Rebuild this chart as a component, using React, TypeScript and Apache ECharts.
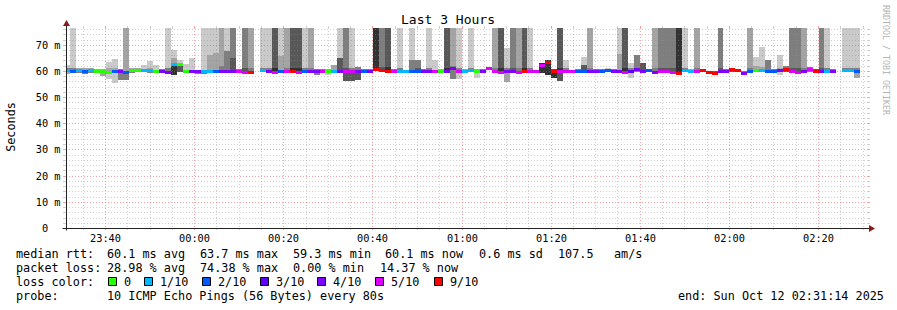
import { useEffect, useRef } from 'react';
import * as echarts from 'echarts';

// ---------- data ----------
const TITLE = 'Last 3 Hours';
const WINDOW_START = '23:31:14';
const SPAN_S = 10800;
const STEP_S = 80;
const FIRST_EDGE_OFFSET_S = 54;
const Y_MAX = 76.4;
const T = 100; // ping beyond the top of the graph

const X_LABELS = ['23:40', '00:00', '00:20', '00:40', '01:00', '01:20', '01:40', '02:00', '02:20'];
const Y_LABELS = [0, 10, 20, 30, 40, 50, 60, 70];

const medianMs = [
  60.2, 60.1, 60.2, 59.8, 60.3, 60.1, 59.8, 59.7, 60.0, 59.9,
  59.6, 60.2, 60.5, 60.2, 60.2, 60.1, 60.0, 59.6, 62.5, 62.5,
  60.1, 60.0, 59.8, 60.1, 60.1, 60.0, 60.0, 60.0, 60.0, 59.8,
  59.7, 59.6, null, 60.2, 60.0, 59.6, 60.1, 60.0, 60.1, 59.6,
  60.1, 60.0, 60.0, 60.0, 60.1, 60.1, 60.0, 59.8, 59.8, 60.0,
  60.1, 60.0, 60.8, 60.2, 60.0, 60.1, 59.8, 59.8, 60.0, 60.0,
  59.9, 59.9, 59.8, 60.1, 60.0, 61.0, 60.0, 60.1, 60.2, 60.0,
  60.0, 61.1, 60.0, 59.7, 59.8, 59.9, 59.7, 59.9, 59.9, 59.9,
  62.4, 63.5, 60.0, 59.8, 60.0, 59.9, 60.1, 60.1, 60.0, 60.0,
  60.0, 60.2, 60.0, 60.0, 59.7, 60.0, 60.8, 60.0, 60.2, 59.7,
  59.8, 59.8, 59.7, 59.4, 60.2, 60.1, 59.8, 60.3, 59.5, 59.4,
  59.9, 60.0, 60.7, 60.2, 59.4, 60.0, 60.2, 60.2, 60.0, 60.0,
  60.3, 60.9, 60.0, 59.7, 60.1, 60.8, 60.0, 60.0, 60.1, 60.0,
  null, 60.2, 60.2, 60.0, null, null,
];

const lostPings = [
  1, 2, 1, 2, 1, 0, 0, 0, 2, 4,
  2, 0, 0, 1, 1, 0, 4, 4, 1, 0,
  0, 4, 4, 1, 1, 2, 4, 4, 4, 5,
  5, 9, 0, 1, 4, 5, 2, 5, 9, 5,
  2, 4, 4, 5, 0, 1, 4, 5, 5, 4,
  2, 4, 9, 9, 9, 5, 1, 1, 2, 2,
  4, 4, 5, 0, 4, 4, 5, 1, 1, 0,
  4, 5, 5, 5, 4, 4, 5, 9, 5, 5,
  5, 9, 9, 5, 5, 5, 2, 2, 4, 4,
  2, 2, 4, 4, 5, 3, 4, 4, 2, 4,
  5, 5, 5, 9, 1, 1, 5, 9, 9, 9,
  4, 4, 9, 9, 4, 2, 0, 1, 2, 2,
  4, 9, 5, 5, 4, 5, 9, 4, 1, 4,
  0, 1, 1, 2, 0, 0,
];

const smokeTop = [
  62.4, T, 61, 61.2, 61.3, 60.8, 60.6, 63.4, 64.7, 60.8,
  T, 61, 61.2, 62.4, 63.9, 62.4, 60.8, T, 68.1, 64,
  62.7, 64.9, 60.5, T, T, T, T, T, T, 60.6,
  T, T, 0, T, T, T, T, T, T, T,
  T, T, 60.7, 60.6, 60.8, 62.3, T, T, T, 61.5,
  60.7, 60.6, T, T, T, 60.7, T, 60.5, T, 64.3,
  60.6, T, 64.3, 60.7, T, T, T, 60.8, T, 60.7,
  60.6, 61.6, T, T, 68.7, T, T, T, T, 60.5,
  63, 64, 60.6, T, 64.3, 60.5, 60.8, 65.5, T, 60.6,
  60.6, 61.3, 60.6, T, T, 63, 66.2, 63, 60.7, T,
  T, T, T, T, T, 60.7, T, 60.9, 60.1, 60.0,
  T, 60.6, 61.3, 60.8, 60.0, T, 65.2, 69, 64.3, 60.6,
  66.2, 61.8, T, T, T, 61.4, 60.6, T, T, 60.8,
  0, T, T, T, 0, 0,
];
const smokeTopShade = [
  1, 1, 2, 2, 2, 2, 2, 1, 1, 3,
  2, 2, 2, 1, 1, 1, 3, 1, 1, 1,
  1, 1, 3, 1, 1, 1, 2, 1, 3, 3,
  3, 2, 0, 1, 1, 4, 1, 2, 4, 4,
  1, 2, 3, 3, 2, 2, 1, 3, 1, 3,
  3, 3, 5, 3, 4, 3, 1, 2, 1, 3,
  3, 1, 1, 2, 4, 2, 1, 2, 1, 2,
  3, 3, 2, 4, 1, 3, 2, 4, 1, 3,
  5, 5, 4, 4, 1, 3, 3, 1, 2, 3,
  3, 1, 3, 1, 4, 1, 3, 4, 3, 2,
  3, 3, 3, 5, 1, 2, 2, 4, 4, 4,
  3, 3, 4, 4, 3, 2, 1, 1, 3, 3,
  1, 3, 3, 3, 2, 3, 4, 3, 1, 3,
  0, 1, 1, 1, 0, 0,
];

const smokeInner = [
  61, 61, 0, 0, 0, 0, 0, 61, 61, 0,
  0, 0, 0, 0, 61, 0, 0, 61, 65, 0,
  0, 0, 0, 0, 66, 66.8, 62, 67.7, 65, 0,
  61, 61, 0, 61, 61, 61, 65.6, 61, 61, 61,
  61, 61, 0, 0, 0, 0, 65, 61, 61, 0,
  0, 0, 0, 61.5, 61.5, 0, 61, 0, 64, 61,
  0, 61, 0, 0, 61, 62, 61, 0, 61, 0,
  0, 0, 61, 61, 61, 61, 61, 61, 61, 0,
  0, 0, 0, 61, 61, 0, 0, 62.2, 61, 0,
  0, 0, 0, 66.5, 61, 61, 0, 0, 0, 61,
  61, 61, 61, 0, 61, 0, 61, 0, 0, 0,
  61, 0, 0, 0, 0, 61, 62, 61.5, 0, 0,
  61, 0, 61, 61, 61, 0, 0, 61, 61, 0,
  0, 61, 61, 61, 0, 0,
];
const smokeInnerShade = [
  3, 3, 0, 0, 0, 0, 0, 2, 2, 0,
  0, 0, 0, 0, 2, 0, 0, 3, 2, 0,
  0, 0, 0, 0, 2, 2, 3, 3, 4, 0,
  4, 3, 0, 3, 3, 5, 2, 3, 5, 5,
  3, 3, 0, 0, 0, 0, 4, 4, 3, 0,
  0, 0, 0, 4, 5, 0, 3, 0, 3, 4,
  0, 3, 0, 0, 5, 3, 3, 0, 3, 0,
  0, 0, 3, 5, 3, 4, 3, 5, 3, 0,
  0, 0, 0, 5, 3, 0, 0, 4, 3, 0,
  0, 0, 0, 2, 5, 3, 0, 0, 0, 3,
  4, 4, 4, 0, 3, 0, 3, 0, 0, 0,
  4, 0, 0, 0, 0, 3, 2, 2, 0, 0,
  2, 0, 4, 4, 3, 0, 0, 4, 3, 0,
  0, 3, 3, 3, 0, 0,
];

const smokeBottom = [
  59, 59.3, 59.4, 59, 59.4, 59.3, 58, 57, 55.4, 56.6,
  56.6, 59.4, 59.6, 59.5, 59.4, 59.5, 59.3, 59, 58.5, 59.5,
  59.5, 59.5, 59, 58.9, 59.3, 59.4, 59.4, 59.4, 59.4, 59.3,
  59.2, 59.2, 0, 59.5, 59.5, 59.3, 59.5, 59.5, 59.5, 59.2,
  59.4, 59.4, 58.5, 59.5, 58.6, 59.4, 59.3, 56, 56, 56.5,
  59.4, 59.4, 59.8, 59.5, 59.3, 59.5, 59.3, 59.3, 59.3, 59.4,
  59.4, 59.4, 59.2, 59.4, 59.4, 57, 57, 59.5, 59.5, 57.3,
  59.3, 60.3, 59.4, 59.3, 55.8, 59.4, 59.4, 59.4, 59.4, 59.4,
  59.2, 58.5, 57.4, 56, 59.4, 59.4, 59.4, 59.4, 59.4, 59.5,
  59.5, 59.6, 59.5, 59.4, 59.2, 57.4, 59.5, 59.5, 59.6, 59.4,
  59.4, 59.4, 59.2, 59, 59.5, 59.5, 59.4, 59.6, 58.8, 58.7,
  59.3, 59.5, 59.6, 59.6, 58.8, 59.4, 59.5, 59.5, 59.5, 59.5,
  58.5, 59.6, 59.4, 59.4, 59.4, 59.6, 59.5, 59.4, 59.5, 59.5,
  0, 59.6, 59.6, 57.3, 0, 0,
];
const smokeBottomShade = [
  2, 3, 3, 3, 3, 2, 2, 1, 1, 3,
  3, 3, 3, 3, 3, 3, 3, 3, 5, 4,
  3, 3, 3, 3, 3, 3, 3, 4, 4, 3,
  4, 3, 0, 3, 3, 4, 3, 3, 4, 4,
  3, 3, 3, 3, 1, 3, 4, 4, 4, 4,
  3, 3, 5, 4, 4, 3, 3, 3, 4, 3,
  3, 3, 3, 2, 4, 3, 1, 3, 3, 1,
  3, 3, 3, 4, 2, 4, 3, 4, 3, 3,
  5, 5, 5, 4, 3, 3, 3, 4, 3, 3,
  3, 3, 3, 3, 4, 1, 3, 4, 3, 3,
  3, 3, 3, 5, 3, 3, 3, 4, 5, 5,
  4, 3, 4, 4, 3, 3, 3, 3, 3, 3,
  1, 4, 4, 4, 3, 3, 4, 4, 3, 3,
  0, 3, 3, 2, 0, 0,
];

const LOSS_COUNTS = [0, 1, 2, 3, 4, 5, 9];
const LOSS_LABELS = ['0', '1/10', '2/10', '3/10', '4/10', '5/10', '9/10'];
const LOSS_COLORS = ['#26ff00', '#00b8ff', '#0059ff', '#5e00ff', '#7e00ff', '#dd00ff', '#ff0000'];
const SMOKE_SHADES = ['#cacaca', '#a4a4a4', '#7e7e7e', '#585858', '#323232'];

const RTT_LINE = ['median rtt:', '60.1 ms avg', '63.7 ms max', '59.3 ms min', '60.1 ms now', '0.6 ms sd', '107.5', 'am/s'];
const LOSS_LINE = ['packet loss:', '28.98 % avg', '74.38 % max', '0.00 % min', '14.37 % now'];
const PROBE_LINE = ['probe:', '10 ICMP Echo Pings (56 Bytes) every 80s'];
const END_TEXT = 'end: Sun Oct 12 02:31:14 2025';
const WATERMARK = 'RRDTOOL / TOBI OETIKER';
const Y_TITLE = 'Seconds';

// ---------- helpers ----------
const MONO = '"DejaVu Sans Mono", monospace';
const clockToSec = (s: string) => {
  const [h, m, sec = 0] = s.split(':').map(Number);
  return ((h - 23 + 24) % 24) * 3600 + m * 60 + sec;
};
const START = clockToSec(WINDOW_START);
const END = START + SPAN_S;

const colorForLoss = (n: number) => {
  const k = LOSS_COUNTS.indexOf(n);
  return LOSS_COLORS[k >= 0 ? k : LOSS_COLORS.length - 1];
};

function buildOption() {
  const smokeData: number[][] = [];
  const medianData: number[][] = [];
  for (let i = 0; i < medianMs.length; i++) {
    const m = medianMs[i];
    if (m == null) continue;
    const t0 = START + FIRST_EDGE_OFFSET_S + STEP_S * (i - 1);
    smokeData.push([t0, t0 + STEP_S, m, smokeTop[i], smokeTopShade[i], smokeInner[i], smokeInnerShade[i], smokeBottom[i], smokeBottomShade[i]]);
    medianData.push([t0, t0 + STEP_S, m, lostPings[i]]);
  }

  const majorTimes = X_LABELS.map(clockToSec);
  const minorTimes: number[][] = [];
  for (let t = clockToSec('23:35'); t <= END; t += 300) {
    if (!majorTimes.includes(t)) minorTimes.push([t, 0]);
  }
  const yMinor: number[][] = [];
  for (let v = 2; v < Y_MAX; v += 2) if (v % 10 !== 0) yMinor.push([START, v]);

  const MINOR_COL = 'rgba(140,140,140,0.42)';
  const MAJOR_COL = 'rgba(230,70,70,0.5)';

  const colX = (api: any, a: number, b: number) => {
    const t0 = Math.max(a, START);
    const t1 = Math.min(b, END);
    return [Math.round(api.coord([t0, 0])[0]), Math.round(api.coord([t1, 0])[0])];
  };
  const yPix = (api: any, v: number) => Math.round(api.coord([START, Math.max(0, Math.min(v, Y_MAX))])[1]);

  const hLine = (color: string) => (params: any, api: any) => {
    const cs = params.coordSys;
    const y = yPix(api, api.value(1)) + 0.5;
    return {
      type: 'group',
      children: [
        { type: 'line', shape: { x1: cs.x, y1: y, x2: cs.x + cs.width, y2: y }, style: { stroke: color, lineWidth: 1, lineDash: [1, 2] } },
        { type: 'line', shape: { x1: cs.x - 3, y1: y, x2: cs.x, y2: y }, style: { stroke: color, lineWidth: 1 } },
        { type: 'line', shape: { x1: cs.x + cs.width, y1: y, x2: cs.x + cs.width + 2, y2: y }, style: { stroke: color, lineWidth: 1 } },
      ],
    };
  };
  const vLine = (color: string, label: boolean) => (params: any, api: any) => {
    const cs = params.coordSys;
    const x = Math.round(api.coord([api.value(0), 0])[0]) + 0.5;
    const bottom = cs.y + cs.height;
    const kids: any[] = [
      { type: 'line', shape: { x1: x, y1: cs.y, x2: x, y2: bottom }, style: { stroke: color, lineWidth: 1, lineDash: [1, 2] } },
      { type: 'line', shape: { x1: x, y1: bottom, x2: x, y2: bottom + 2 }, style: { stroke: color, lineWidth: 1 } },
      { type: 'line', shape: { x1: x, y1: cs.y - 2, x2: x, y2: cs.y }, style: { stroke: color, lineWidth: 1 } },
    ];
    if (label) {
      kids.push({
        type: 'text', x: x, y: bottom + 10,
        style: { text: X_LABELS[params.dataIndex], font: `10.3px ${MONO}`, fill: '#000', align: 'center', verticalAlign: 'middle' },
      });
    }
    return { type: 'group', children: kids };
  };

  const textEl = (x: number, y: number, text: string, extra: any = {}) => ({
    type: 'text', x, y, silent: true,
    style: { text, fill: '#000', font: `11.8px ${MONO}`, align: 'left', verticalAlign: 'middle', ...extra },
  });

  const rttX = [16, 107, 200, 293, 385, 479, 558, 614];
  const lossX = [16, 107, 200, 293, 380];
  const swatchTextX = [124, 160, 218, 276, 333, 391, 450];

  const graphic: any[] = [
    textEl(448, 19.5, TITLE, { font: `13px ${MONO}`, align: 'center' }),
    { ...textEl(11, 127, Y_TITLE, { align: 'center' }), rotation: Math.PI / 2 },
    { ...textEl(886, 60, WATERMARK, { align: 'center', font: `8.3px ${MONO}`, fill: '#b4b4b4' }), rotation: -Math.PI / 2 },
    ...RTT_LINE.map((s, k) => textEl(rttX[k], 254, s)),
    ...LOSS_LINE.map((s, k) => textEl(lossX[k], 268, s)),
    textEl(16, 282, 'loss color:'),
    ...LOSS_LABELS.map((s, k) => textEl(swatchTextX[k], 282, s)),
    ...LOSS_COLORS.map((c, k) => ({
      type: 'rect', x: swatchTextX[k] - 15.5, y: 277.5, silent: true,
      shape: { x: 0, y: 0, width: 8, height: 8 },
      style: { fill: c, stroke: '#000', lineWidth: 1 },
    })),
    textEl(16, 296, PROBE_LINE[0]),
    textEl(107, 296, PROBE_LINE[1]),
    textEl(678, 296, END_TEXT),
  ];

  return {
    animation: false,
    backgroundColor: '#ffffff',
    grid: { left: 66, top: 28, width: 802, height: 200, containLabel: false },
    xAxis: { type: 'value', min: START, max: END, show: false },
    yAxis: { type: 'value', min: 0, max: Y_MAX, show: false },
    graphic,
    series: [
      {
        type: 'custom', name: 'smoke', z: 1, silent: true, data: smokeData,
        renderItem: (params: any, api: any) => {
          const [x0, x1] = colX(api, api.value(0), api.value(1));
          const med = api.value(2);
          const ym = yPix(api, med);
          const kids: any[] = [];
          const band = (v: number, s: number) => {
            if (!s || !v) return;
            const y = yPix(api, v);
            if (y === ym) return;
            kids.push({
              type: 'rect',
              shape: { x: x0, y: Math.min(y, ym), width: x1 - x0, height: Math.abs(y - ym) },
              style: { fill: SMOKE_SHADES[s - 1] },
            });
          };
          band(api.value(7), api.value(8));
          band(api.value(3), api.value(4));
          band(api.value(5), api.value(6));
          return { type: 'group', children: kids };
        },
      },
      { type: 'custom', name: 'yMinor', z: 2, silent: true, data: yMinor, renderItem: hLine(MINOR_COL) },
      { type: 'custom', name: 'xMinor', z: 2, silent: true, data: minorTimes, renderItem: vLine(MINOR_COL, false) },
      {
        type: 'custom', name: 'yMajor', z: 2, silent: true,
        data: Y_LABELS.map((v) => [START, v]),
        renderItem: (params: any, api: any) => {
          const cs = params.coordSys;
          const v = api.value(1);
          const base: any = hLine(MAJOR_COL)(params, api);
          const y = yPix(api, v);
          const charW = 10.3 * 0.602;
          const right = cs.x - 5.5;
          if (v !== 0) {
            base.children.push({ type: 'text', x: right, y, style: { text: `${v} m`, font: `10.3px ${MONO}`, fill: '#000', align: 'right', verticalAlign: 'middle' } });
          } else {
            base.children.shift();
            base.children.push({ type: 'text', x: right - 2 * charW, y, style: { text: `${v}`, font: `10.3px ${MONO}`, fill: '#000', align: 'right', verticalAlign: 'middle' } });
          }
          return base;
        },
      },
      { type: 'custom', name: 'xMajor', z: 2, silent: true, data: majorTimes.map((t) => [t, 0]), renderItem: vLine(MAJOR_COL, true) },
      {
        type: 'custom', name: 'median', z: 3, silent: true, data: medianData,
        renderItem: (params: any, api: any) => {
          const [x0, x1] = colX(api, api.value(0), api.value(1));
          const y = yPix(api, api.value(2));
          return { type: 'rect', shape: { x: x0, y: y - 1, width: x1 - x0, height: 3 }, style: { fill: colorForLoss(api.value(3)) } };
        },
      },
      {
        type: 'custom', name: 'axes', z: 4, silent: true, data: [[START, 0]],
        renderItem: (params: any, api: any) => {
          const cs = params.coordSys;
          const o = api.coord([START, 0]);
          const ox = Math.round(o[0]) + 0.5;
          const oy = Math.round(o[1]) + 0.5;
          const right = cs.x + cs.width;
          const top = cs.y;
          const AXIS = '#222';
          const ARROW = '#8b1a1a';
          return {
            type: 'group',
            children: [
              { type: 'line', shape: { x1: ox - 4, y1: oy, x2: right + 2, y2: oy }, style: { stroke: AXIS, lineWidth: 1 } },
              { type: 'line', shape: { x1: ox, y1: oy + 2, x2: ox, y2: top - 2 }, style: { stroke: AXIS, lineWidth: 1 } },
              { type: 'polygon', shape: { points: [[ox - 3.5, top - 2], [ox + 3.5, top - 2], [ox, top - 8]] }, style: { fill: ARROW } },
              { type: 'polygon', shape: { points: [[right + 1, oy - 3.5], [right + 1, oy + 3.5], [right + 7, oy]] }, style: { fill: ARROW } },
            ],
          };
        },
      },
    ],
  };
}

export default function App() {
  const ref = useRef<HTMLDivElement>(null);
  useEffect(() => {
    if (!ref.current) return;
    const chart = echarts.init(ref.current, null, { renderer: 'svg' });
    chart.setOption(buildOption() as any);
    return () => chart.dispose();
  }, []);
  return (
    <div
      ref={ref}
      style={{ position: 'fixed', left: 0, top: 0, width: 897, height: 310, background: '#fff' }}
    />
  );
}
